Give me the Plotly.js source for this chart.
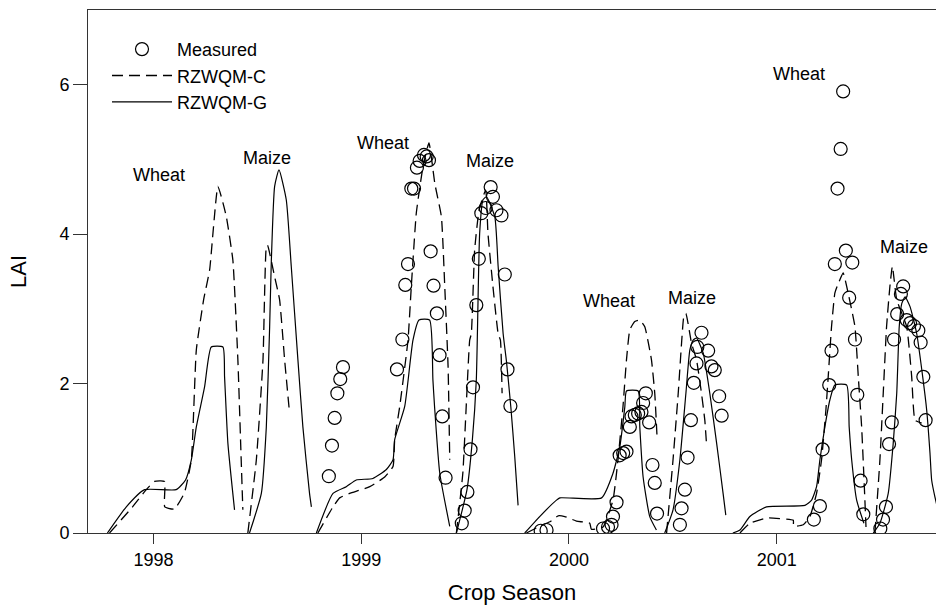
<!DOCTYPE html>
<html>
<head>
<meta charset="utf-8">
<script src="https://cdn.plot.ly/plotly-3.0.1.min.js"></script>
<style>html,body{margin:0;padding:0;background:#fff;}#chart{width:936px;height:608px;}</style>
</head>
<body>
<div id="chart"></div>
<script>
// ---------- Measured LAI (decimal year, LAI) ----------
const measYear = [
  1998.844, 1998.859, 1998.872, 1998.885, 1998.899, 1998.912,
  1999.172, 1999.198, 1999.212, 1999.225, 1999.241, 1999.254, 1999.268, 1999.281, 1999.302, 1999.315, 1999.326, 1999.334, 1999.348, 1999.364, 1999.377, 1999.390, 1999.406,
  1999.484, 1999.498, 1999.511, 1999.526, 1999.538, 1999.554, 1999.566, 1999.578, 1999.599, 1999.623, 1999.634, 1999.651, 1999.675, 1999.691, 1999.704, 1999.718,
  1999.864, 1999.892, 2000.164, 2000.188, 2000.205, 2000.212, 2000.229, 2000.244, 2000.261, 2000.277, 2000.293, 2000.301, 2000.317, 2000.333, 2000.349, 2000.357, 2000.370, 2000.386, 2000.402, 2000.413, 2000.424,
  2000.534, 2000.542, 2000.558, 2000.571, 2000.587, 2000.601, 2000.614, 2000.618, 2000.638, 2000.670, 2000.686, 2000.702, 2000.723, 2000.735,
  2001.179, 2001.208, 2001.221, 2001.253, 2001.264, 2001.280, 2001.293, 2001.308, 2001.320, 2001.333, 2001.349, 2001.364, 2001.377, 2001.388, 2001.404, 2001.417,
  2001.499, 2001.512, 2001.526, 2001.541, 2001.554, 2001.565, 2001.580, 2001.598, 2001.609, 2001.626, 2001.642, 2001.661, 2001.682, 2001.693, 2001.706, 2001.717
];
const measLAI = [
  0.76, 1.17, 1.54, 1.87, 2.06, 2.22,
  2.19, 2.59, 3.32, 3.60, 4.61, 4.61, 4.89, 4.98, 5.06, 5.04, 4.99, 3.77, 3.31, 2.94, 2.38, 1.56, 0.74,
  0.13, 0.30, 0.55, 1.12, 1.95, 3.05, 3.67, 4.28, 4.35, 4.63, 4.50, 4.32, 4.25, 3.46, 2.19, 1.70,
  0.03, 0.04, 0.06, 0.08, 0.11, 0.22, 0.41, 1.04, 1.07, 1.09, 1.42, 1.56, 1.58, 1.60, 1.62, 1.74, 1.87, 1.48, 0.91, 0.67, 0.26,
  0.11, 0.33, 0.58, 1.01, 1.51, 2.01, 2.27, 2.49, 2.68, 2.44, 2.23, 2.18, 1.83, 1.57,
  0.18, 0.36, 1.12, 1.98, 2.44, 3.60, 4.61, 5.14, 5.91, 3.78, 3.15, 3.62, 2.59, 1.85, 0.70, 0.25,
  0.06, 0.18, 0.35, 1.19, 1.48, 2.59, 2.93, 3.20, 3.30, 2.85, 2.81, 2.77, 2.71, 2.55, 2.09, 1.51
];

// ---------- RZWQM-C (simulated, per season) ----------
const cWheat98Yr  = [1997.788, 1997.899, 1997.965, 1998.005, 1998.053, 1998.054, 1998.101, 1998.149, 1998.182, 1998.206, 1998.241, 1998.270, 1998.310, 1998.350, 1998.382, 1998.406, 1998.422, 1998.430];
const cWheat98LAI = [0, 0.35, 0.58, 0.69, 0.69, 0.35, 0.32, 0.54, 0.98, 2.45, 3.12, 3.52, 4.64, 4.24, 3.65, 2.32, 0.98, 0.31];
const cMaize98Yr  = [1998.454, 1998.495, 1998.527, 1998.543, 1998.549, 1998.583, 1998.607, 1998.631, 1998.655];
const cMaize98LAI = [0, 0.98, 2.32, 3.83, 3.85, 3.43, 3.12, 2.32, 1.60];
const cWheat99Yr  = [1998.791, 1998.864, 1998.896, 1998.944, 1999.041, 1999.113, 1999.153, 1999.161, 1999.185, 1999.225, 1999.241, 1999.265, 1999.297, 1999.326, 1999.354, 1999.386, 1999.402, 1999.418, 1999.426];
const cWheat99LAI = [0, 0.35, 0.47, 0.53, 0.62, 0.75, 0.89, 1.25, 1.69, 2.58, 3.30, 4.28, 4.90, 5.22, 4.68, 4.23, 3.30, 2.23, 0.98];
const cMaize99Yr  = [1999.458, 1999.489, 1999.509, 1999.522, 1999.530, 1999.546, 1999.567, 1999.599, 1999.610, 1999.634, 1999.659, 1999.670, 1999.678];
const cMaize99LAI = [0, 0.80, 1.91, 2.58, 2.67, 3.79, 4.32, 4.59, 4.01, 3.30, 2.67, 2.58, 1.87];
const cWheat00Yr  = [1999.795, 1999.859, 1999.908, 1999.948, 1999.980, 2000.036, 2000.100, 2000.108, 2000.164, 2000.212, 2000.236, 2000.260, 2000.277, 2000.293, 2000.317, 2000.341, 2000.365, 2000.397, 2000.413, 2000.424];
const cWheat00LAI = [0, 0.09, 0.15, 0.23, 0.22, 0.16, 0.13, 0.05, 0.08, 0.44, 0.98, 1.69, 2.32, 2.72, 2.83, 2.85, 2.76, 2.32, 1.87, 1.29];
const cMaize00Yr  = [2000.470, 2000.501, 2000.526, 2000.542, 2000.553, 2000.563, 2000.590, 2000.614, 2000.638, 2000.654, 2000.662];
const cMaize00LAI = [0, 0.98, 1.87, 2.54, 2.90, 2.94, 2.54, 2.32, 1.87, 1.51, 1.20];
const cWheat01Yr  = [2000.823, 2000.871, 2000.951, 2000.983, 2001.080, 2001.081, 2001.128, 2001.160, 2001.192, 2001.216, 2001.237, 2001.248, 2001.264, 2001.280, 2001.291, 2001.320, 2001.337, 2001.361, 2001.377, 2001.393, 2001.409, 2001.420, 2001.430];
const cWheat01LAI = [0, 0.13, 0.20, 0.20, 0.17, 0.09, 0.11, 0.22, 0.53, 0.98, 1.65, 2.09, 2.76, 3.21, 3.30, 3.48, 3.30, 2.99, 2.76, 2.09, 1.42, 0.75, 0.08];
const cMaize01Yr  = [2001.473, 2001.497, 2001.513, 2001.529, 2001.545, 2001.557, 2001.578, 2001.626, 2001.650, 2001.666, 2001.698];
const cMaize01LAI = [0, 0.98, 1.87, 2.76, 3.30, 3.57, 3.12, 2.76, 2.09, 1.51, 1.47];

// ---------- RZWQM-G (simulated, per season) ----------
const gWheat98Yr  = [1997.778, 1997.869, 1997.957, 1998.109, 1998.154, 1998.182, 1998.206, 1998.246, 1998.278, 1998.334, 1998.342, 1998.358, 1998.390];
const gWheat98LAI = [0, 0.35, 0.58, 0.58, 0.71, 0.98, 1.42, 1.96, 2.49, 2.49, 2.09, 1.20, 0.31];
const gMaize98Yr  = [1998.462, 1998.519, 1998.543, 1998.559, 1998.567, 1998.583, 1998.604, 1998.639, 1998.663, 1998.695, 1998.719, 1998.751, 1998.760];
const gMaize98LAI = [0, 0.53, 1.42, 2.76, 3.63, 4.64, 4.86, 4.46, 3.57, 2.32, 1.42, 0.53, 0.35];
const gWheat99Yr  = [1998.784, 1998.864, 1998.928, 1998.976, 1999.056, 1999.121, 1999.153, 1999.161, 1999.209, 1999.249, 1999.278, 1999.329, 1999.345, 1999.353, 1999.378, 1999.426];
const gWheat99LAI = [0, 0.53, 0.62, 0.71, 0.73, 0.85, 0.98, 1.25, 1.69, 2.58, 2.85, 2.85, 2.05, 1.69, 0.80, 0.09];
const gMaize99Yr  = [1999.458, 1999.509, 1999.535, 1999.554, 1999.570, 1999.586, 1999.603, 1999.643, 1999.659, 1999.683, 1999.699, 1999.720, 1999.739, 1999.755];
const gMaize99LAI = [0, 0.58, 1.25, 2.05, 4.01, 4.46, 4.50, 4.23, 3.57, 2.67, 2.30, 1.69, 1.02, 0.37];
const gWheat00Yr  = [1999.787, 1999.859, 1999.940, 1999.956, 2000.157, 2000.212, 2000.245, 2000.269, 2000.277, 2000.333, 2000.341, 2000.357, 2000.389, 2000.421];
const gWheat00LAI = [0, 0.22, 0.44, 0.47, 0.47, 0.80, 1.16, 1.69, 1.90, 1.90, 1.42, 0.75, 0.22, 0.04];
const gMaize00Yr  = [2000.461, 2000.501, 2000.534, 2000.563, 2000.582, 2000.598, 2000.614, 2000.646, 2000.678, 2000.711, 2000.742, 2000.755];
const gMaize00LAI = [0, 0.31, 0.98, 1.87, 2.45, 2.58, 2.61, 2.41, 1.87, 1.20, 0.53, 0.24];
const gWheat01Yr  = [2000.789, 2000.823, 2000.871, 2000.951, 2001.136, 2001.168, 2001.192, 2001.208, 2001.232, 2001.256, 2001.280, 2001.337, 2001.349, 2001.361, 2001.385, 2001.420];
const gWheat01LAI = [0, 0.04, 0.22, 0.35, 0.37, 0.44, 0.62, 0.98, 1.42, 1.78, 1.98, 1.98, 1.42, 0.98, 0.44, 0.13];
const gMaize01Yr  = [2001.465, 2001.497, 2001.537, 2001.561, 2001.578, 2001.590, 2001.602, 2001.618, 2001.642, 2001.674, 2001.703, 2001.722, 2001.738, 2001.746, 2001.762, 2001.786];
const gMaize01LAI = [0, 0.13, 0.53, 1.20, 1.87, 2.76, 3.07, 3.16, 3.03, 2.67, 2.09, 1.65, 1.07, 0.71, 0.48, 0.20];

// ---------- Labels ----------
const cropLabels = ['Wheat', 'Maize', 'Wheat', 'Maize', 'Wheat', 'Maize', 'Wheat', 'Maize'];
const cropLabelYr = [1998.026, 1998.547, 1999.105, 1999.621, 2000.194, 2000.592, 2001.107, 2001.613];
const cropLabelLAI = [4.79, 5.02, 5.22, 4.98, 3.10, 3.14, 6.15, 3.83];
const yearTicks = [1998, 1999, 2000, 2001];
const laiTicks = [0, 2, 4, 6];

function joinSeasons(list) {
  const x = [], y = [];
  list.forEach(function (s, i) {
    if (i > 0) { x.push(null); y.push(null); }
    for (let k = 0; k < s[0].length; k++) { x.push(s[0][k]); y.push(s[1][k]); }
  });
  return {x: x, y: y};
}

const cSeries = joinSeasons([[cWheat98Yr, cWheat98LAI], [cMaize98Yr, cMaize98LAI], [cWheat99Yr, cWheat99LAI], [cMaize99Yr, cMaize99LAI],
  [cWheat00Yr, cWheat00LAI], [cMaize00Yr, cMaize00LAI], [cWheat01Yr, cWheat01LAI], [cMaize01Yr, cMaize01LAI]]);
const gSeries = joinSeasons([[gWheat98Yr, gWheat98LAI], [gMaize98Yr, gMaize98LAI], [gWheat99Yr, gWheat99LAI], [gMaize99Yr, gMaize99LAI],
  [gWheat00Yr, gWheat00LAI], [gMaize00Yr, gMaize00LAI], [gWheat01Yr, gWheat01LAI], [gMaize01Yr, gMaize01LAI]]);

const FONT = 'Liberation Sans, Arial, Helvetica, sans-serif';

const traces = [
  {
    x: measYear, y: measLAI, name: 'Measured', type: 'scatter', mode: 'markers',
    marker: {symbol: 'circle-open', size: 13, color: '#000', line: {width: 1.2, color: '#000'}},
    cliponaxis: true
  },
  {
    x: cSeries.x, y: cSeries.y, name: 'RZWQM-C', type: 'scatter', mode: 'lines', connectgaps: false,
    line: {color: '#000', width: 1.3, dash: '11px,6px', shape: 'spline', smoothing: 0.4}
  },
  {
    x: gSeries.x, y: gSeries.y, name: 'RZWQM-G', type: 'scatter', mode: 'lines', connectgaps: false,
    line: {color: '#000', width: 1.2, shape: 'spline', smoothing: 0.5}
  }
];

const annotations = cropLabels.map(function (t, i) {
  return {x: cropLabelYr[i], y: cropLabelLAI[i], xref: 'x', yref: 'y', text: t, showarrow: false,
    font: {family: FONT, size: 18, color: '#000'}, xanchor: 'center', yanchor: 'middle'};
});

const layout = {
  width: 936, height: 608,
  margin: {l: 88, r: 0, t: 10, b: 75, pad: 0},
  paper_bgcolor: '#fff', plot_bgcolor: '#fff',
  font: {family: FONT, size: 18, color: '#000'},
  showlegend: true,
  legend: {x: 0.0224, y: 0.96, xanchor: 'left', yanchor: 'top', bgcolor: 'rgba(0,0,0,0)',
    font: {family: FONT, size: 18, color: '#000'}, itemwidth: 60, tracegroupgap: 0},
  xaxis: {
    range: [1997.6845, 2001.767], tickmode: 'array', tickvals: yearTicks, ticktext: yearTicks.map(String),
    ticks: 'outside', ticklen: 10, tickwidth: 1, tickcolor: '#333',
    showline: true, linecolor: '#333', linewidth: 1, mirror: true,
    showgrid: false, zeroline: false,
    tickfont: {family: FONT, size: 18, color: '#000'},
    title: {text: 'Crop Season', font: {family: FONT, size: 22, color: '#000'}, standoff: 16}
  },
  yaxis: {
    range: [0, 7], tickmode: 'array', tickvals: laiTicks, ticktext: laiTicks.map(String),
    ticks: 'outside', ticklen: 14, tickwidth: 1, tickcolor: '#333',
    showline: true, linecolor: '#333', linewidth: 1, mirror: false,
    showgrid: false, zeroline: false,
    tickfont: {family: FONT, size: 18, color: '#000'},
    title: {text: 'LAI', font: {family: FONT, size: 22, color: '#000'}, standoff: 26}
  },
  annotations: annotations
};

Plotly.newPlot('chart', traces, layout, {staticPlot: true, displayModeBar: false});
</script>
</body>
</html>
